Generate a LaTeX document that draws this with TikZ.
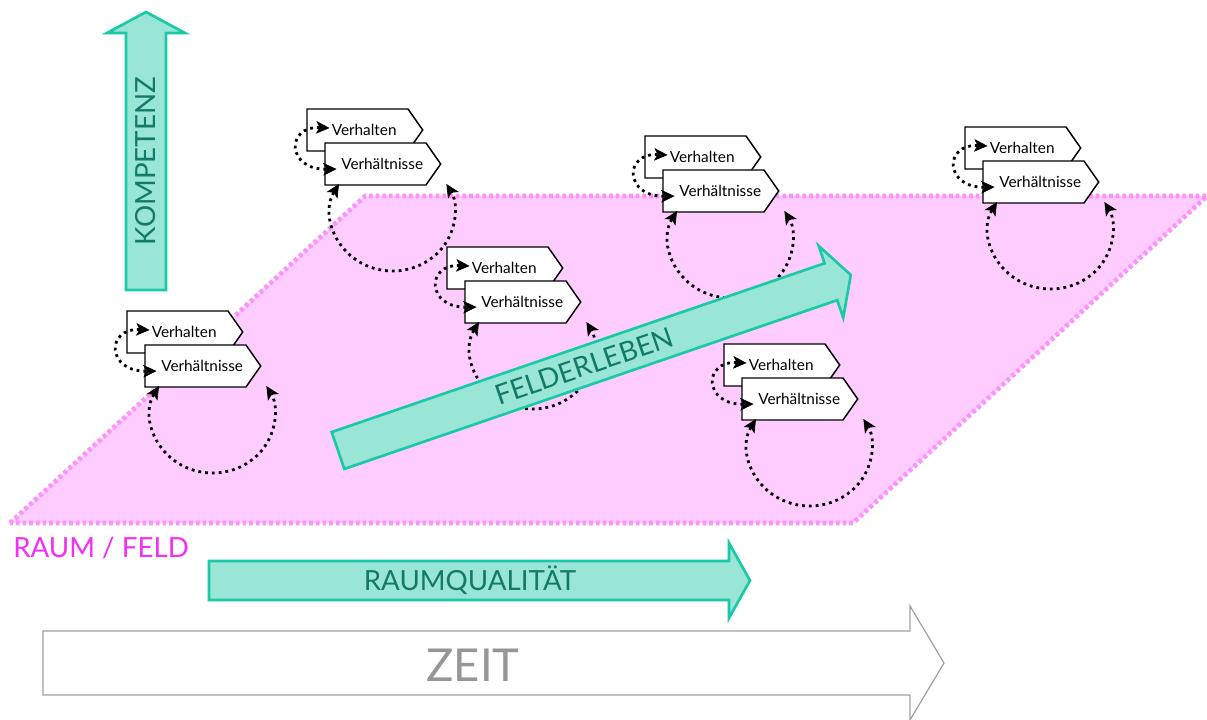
\documentclass[tikz,border=0pt]{standalone}
\usepackage{fontspec}
\setmainfont{Lato}
\usetikzlibrary{shapes.symbols,arrows.meta,calc}
\definecolor{fieldfill}{RGB}{255,204,255}
\definecolor{fieldline}{RGB}{255,145,255}
\definecolor{fieldtext}{RGB}{245,45,245}
\definecolor{tealfill}{RGB}{153,229,214}
\definecolor{tealline}{RGB}{26,201,166}
\definecolor{tealtext}{RGB}{18,122,102}
\definecolor{timeline}{RGB}{160,160,160}
\definecolor{timetext}{RGB}{150,150,150}
\tikzstyle{tag} = [signal, signal to=east, signal pointer angle=110, draw, fill=white,
    line width=1.1pt, text width=75.75pt, align=center, inner xsep=0pt, inner ysep=0pt,
    minimum height=31.5pt, font=\fontsize{11.5}{13}\selectfont,
    execute at begin node={\hspace*{10pt}}]
\tikzstyle{feedback} = [draw, line width=2.1pt, dash pattern=on 2.1pt off 3pt,
    >={Stealth[length=10pt, width=9.5pt, inset=2.5pt, line width=0.5pt]}, <->]
\tikzstyle{field} = [fill=fieldfill, draw=fieldline, line width=3.5pt, dash pattern=on 2.8pt off 2.2pt]
\tikzstyle{bigarrow} = [draw=tealline, fill=tealfill, line width=2pt]
\tikzstyle{timearrow} = [draw=timeline, fill=white, line width=0.9pt]
\tikzstyle{arrowtext} = [text=tealtext, font=\fontsize{20.8}{24}\selectfont, inner sep=0pt]

\begin{document}
\begin{tikzpicture}[x=0.75pt, y=-0.75pt]
	\useasboundingbox (0,0) rectangle (1207,720);
	% Field
	\path [field] (10,523) -- (365,196) -- (1207,196) -- (853,523) -- cycle;
	\node [anchor=base west, inner sep=0pt, text=fieldtext, font=\fontsize{20.8}{24}\selectfont] (raumfeld) at (13,557) {RAUM / FELD};
	% Axes
	\path [bigarrow] (126,290) -- (126,33) -- (107,33) -- (146,12) -- (185,33) -- (166,33) -- (166,290) -- cycle;
	\node [arrowtext, rotate=90, anchor=base] (kompetenz) at (155,161) {KOMPETENZ};
	\path [bigarrow] (209,561) -- (729,561) -- (729,543) -- (750,580.5) -- (729,618) -- (729,600) -- (209,600) -- cycle;
	\node [arrowtext, anchor=base] (raumqualitaet) at (470,590.5) {RAUMQUALITÄT};
	\path [timearrow] (43,631) -- (910,631) -- (910,606) -- (944,663) -- (910,720) -- (910,695) -- (43,695) -- cycle;
	\node [anchor=base, inner sep=0pt, text=timetext, font=\fontsize{34}{40}\selectfont] (zeit) at (473,681) {ZEIT};

	% Place nodes
	\node [tag] (verhalten1) at (177.5,332) {Verhalten};
	\node [tag] (verhaeltnisse1) at (195.5,366) {Verhältnisse};
	\node [tag] (verhalten2) at (357.5,130) {Verhalten};
	\node [tag] (verhaeltnisse2) at (375.5,164) {Verhältnisse};
	\node [tag] (verhalten3) at (497.5,268) {Verhalten};
	\node [tag] (verhaeltnisse3) at (515.5,302) {Verhältnisse};
	\node [tag] (verhalten4) at (695.5,157) {Verhalten};
	\node [tag] (verhaeltnisse4) at (713.5,191) {Verhältnisse};
	\node [tag] (verhalten5) at (774.5,365) {Verhalten};
	\node [tag] (verhaeltnisse5) at (792.5,399) {Verhältnisse};
	\node [tag] (verhalten6) at (1015.5,148) {Verhalten};
	\node [tag] (verhaeltnisse6) at (1033.5,182) {Verhältnisse};

	% Draw edges
	\path [feedback] ($(verhalten1.center)+(-28,-2)$) .. controls +(-44,-2) and +(-50,1) .. ($(verhaeltnisse1.center)+(-39,5)$);
	\path [feedback] ($(verhaeltnisse1.center)+(-36.5,20)$) arc [start angle=210, end angle=-30, x radius=62, y radius=58];
	\path [feedback] ($(verhalten2.center)+(-28,-2)$) .. controls +(-44,-2) and +(-50,1) .. ($(verhaeltnisse2.center)+(-39,5)$);
	\path [feedback] ($(verhaeltnisse2.center)+(-36.5,20)$) arc [start angle=210, end angle=-30, x radius=62, y radius=58];
	\path [feedback] ($(verhalten3.center)+(-28,-2)$) .. controls +(-44,-2) and +(-50,1) .. ($(verhaeltnisse3.center)+(-39,5)$);
	\path [feedback] ($(verhaeltnisse3.center)+(-36.5,20)$) arc [start angle=210, end angle=-30, x radius=62, y radius=58];
	\path [feedback] ($(verhalten4.center)+(-28,-2)$) .. controls +(-44,-2) and +(-50,1) .. ($(verhaeltnisse4.center)+(-39,5)$);
	\path [feedback] ($(verhaeltnisse4.center)+(-36.5,20)$) arc [start angle=210, end angle=-30, x radius=62, y radius=58];
	\path [feedback] ($(verhalten5.center)+(-28,-2)$) .. controls +(-44,-2) and +(-50,1) .. ($(verhaeltnisse5.center)+(-39,5)$);
	\path [feedback] ($(verhaeltnisse5.center)+(-36.5,20)$) arc [start angle=210, end angle=-30, x radius=62, y radius=58];
	\path [feedback] ($(verhalten6.center)+(-28,-2)$) .. controls +(-44,-2) and +(-50,1) .. ($(verhaeltnisse6.center)+(-39,5)$);
	\path [feedback] ($(verhaeltnisse6.center)+(-36.5,20)$) arc [start angle=210, end angle=-30, x radius=62, y radius=58];

	% Felderleben
	\begin{scope}[shift={(338,450.5)}, rotate=18.9]
		\path [bigarrow] (0,-19.5) -- (521,-19.5) -- (521,-38) -- (542,0) -- (521,38) -- (521,19.5) -- (0,19.5) -- cycle;
		\node [arrowtext, rotate=18.9] (felderleben) at (260,0) {FELDERLEBEN};
	\end{scope}
\end{tikzpicture}
\end{document}
